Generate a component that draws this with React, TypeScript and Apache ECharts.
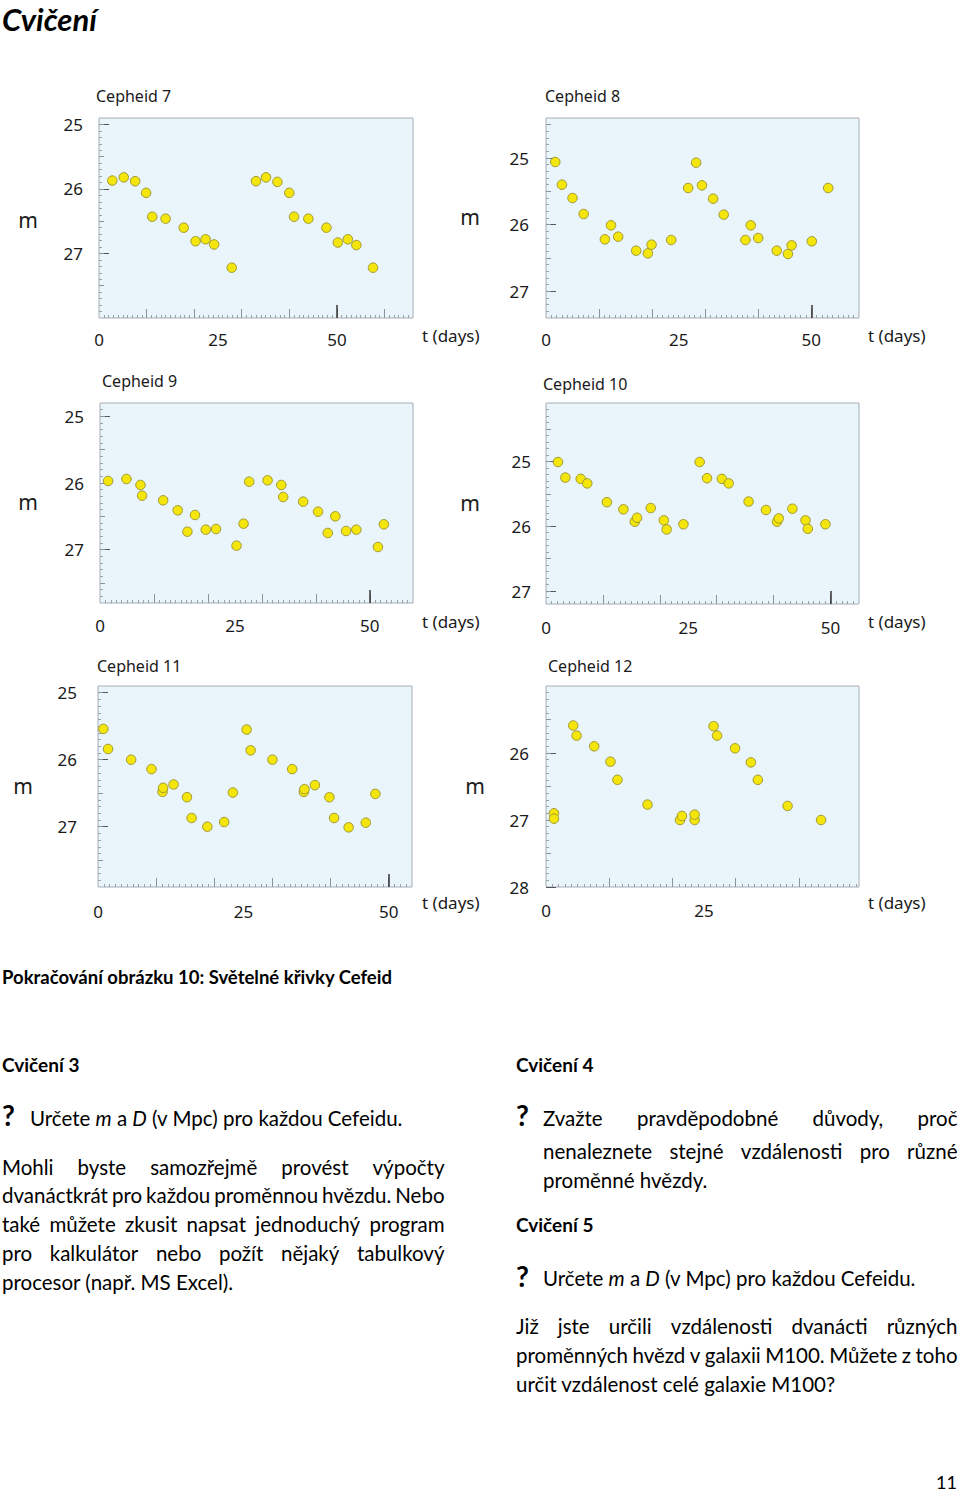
import { useEffect, useRef } from "react";
import * as echarts from "echarts";

// ---------- data ----------
const chartTitles = ["Cepheid 7", "Cepheid 8", "Cepheid 9", "Cepheid 10", "Cepheid 11", "Cepheid 12"];

const cepheid7Days = [2.8, 5.2, 7.6, 9.9, 11.2, 14.0, 17.8, 20.3, 22.4, 24.2, 27.9, 33.0, 35.1, 37.5, 40.0, 41.0, 44.0, 47.8, 50.2, 52.3, 54.1, 57.6];
const cepheid7Mag = [25.87, 25.82, 25.88, 26.06, 26.43, 26.46, 26.6, 26.81, 26.78, 26.86, 27.22, 25.88, 25.82, 25.89, 26.06, 26.43, 26.46, 26.6, 26.83, 26.78, 26.87, 27.22];

const cepheid8Days = [1.75, 3.0, 5.0, 7.1, 11.1, 12.25, 13.6, 17.0, 19.2, 19.9, 23.6, 26.8, 28.3, 29.4, 31.5, 33.5, 37.6, 38.6, 40.0, 43.5, 45.6, 46.3, 50.1, 53.2];
const cepheid8Mag = [25.06, 25.4, 25.6, 25.84, 26.22, 26.01, 26.18, 26.39, 26.43, 26.3, 26.23, 25.45, 25.07, 25.41, 25.61, 25.85, 26.23, 26.01, 26.2, 26.39, 26.44, 26.31, 26.25, 25.45];

const cepheid9Days = [1.5, 4.9, 7.5, 7.8, 11.7, 14.4, 16.2, 17.6, 19.6, 21.5, 25.3, 26.6, 27.65, 31.05, 33.6, 33.95, 37.65, 40.4, 42.2, 43.6, 45.6, 47.5, 51.5, 52.6];
const cepheid9Mag = [25.97, 25.94, 26.03, 26.19, 26.26, 26.41, 26.73, 26.48, 26.7, 26.69, 26.94, 26.61, 25.98, 25.96, 26.03, 26.21, 26.28, 26.43, 26.75, 26.5, 26.72, 26.7, 26.96, 26.62];

const cepheid10Days = [2.1, 3.4, 6.1, 7.25, 10.7, 13.6, 15.6, 16.0, 18.4, 20.7, 21.2, 24.15, 27.0, 28.3, 30.9, 32.1, 35.6, 38.65, 40.6, 40.9, 43.3, 45.6, 46.0, 49.1];
const cepheid10Mag = [25.01, 25.25, 25.27, 25.34, 25.63, 25.74, 25.93, 25.87, 25.72, 25.91, 26.05, 25.97, 25.01, 25.26, 25.27, 25.34, 25.62, 25.75, 25.93, 25.88, 25.73, 25.91, 26.04, 25.97];

const cepheid11Days = [0.92, 1.73, 5.7, 9.2, 11.1, 11.2, 13.0, 15.3, 16.1, 18.8, 21.7, 23.2, 25.56, 26.25, 30.0, 33.4, 35.4, 35.5, 37.3, 39.8, 40.6, 43.1, 46.05, 47.7];
const cepheid11Mag = [25.54, 25.84, 26.0, 26.14, 26.48, 26.42, 26.37, 26.56, 26.87, 27.0, 26.93, 26.49, 25.55, 25.86, 26.0, 26.14, 26.48, 26.44, 26.38, 26.56, 26.87, 27.01, 26.94, 26.51];

const cepheid12Days = [1.26, 1.26, 4.3, 4.84, 7.63, 10.2, 11.3, 16.05, 21.2, 21.5, 23.5, 23.5, 26.5, 27.05, 29.9, 32.4, 33.5, 38.2, 43.5];
const cepheid12Mag = [26.9, 26.98, 25.59, 25.74, 25.9, 26.13, 26.4, 26.77, 27.0, 26.94, 27.0, 26.92, 25.6, 25.74, 25.93, 26.14, 26.4, 26.79, 27.0];

const allDays = [cepheid7Days, cepheid8Days, cepheid9Days, cepheid10Days, cepheid11Days, cepheid12Days];
const allMags = [cepheid7Mag, cepheid8Mag, cepheid9Mag, cepheid10Mag, cepheid11Mag, cepheid12Mag];

const magTickLabels = [25, 26, 27];
const magTickLabels12 = [26, 27, 28];
const dayTickLabels = [0, 25, 50];
const dayTickLabels12 = [0, 25];

const pageTitle = "Cvičení";
const figureCaption = "Pokračování obrázku 10: Světelné křivky Cefeid";
const exercise3Heading = "Cvičení 3";
const exercise4Heading = "Cvičení 4";
const exercise5Heading = "Cvičení 5";
const exercise3Lines = [
  "Mohli byste samozřejmě provést výpočty",
  "dvanáctkrát pro každou proměnnou hvězdu. Nebo",
  "také můžete zkusit napsat jednoduchý program",
  "pro kalkulátor nebo požít nějaký tabulkový",
  "procesor (např. MS Excel).",
];
const exercise4Lines = [
  "Zvažte pravděpodobné důvody, proč",
  "nenaleznete stejné vzdálenosti pro různé",
  "proměnné hvězdy.",
];
const exercise5Lines = [
  "Již jste určili vzdálenosti dvanácti různých",
  "proměnných hvězd v galaxii M100. Můžete z toho",
  "určit vzdálenost celé galaxie M100?",
];
const questionRich = "{n|Určete }{i|m}{n| a }{i|D}{n| (v Mpc) pro každou Cefeidu.}";

// ---------- layout ----------
const layouts = [
  { left: 99, top: 118, width: 314, height: 200, xMax: 66, yMin: 24.9, yMax: 28, yGap: 16, xGap: 13, titleX: 96, titleY: 96, mX: 28, mY: 220, tX: 422, tY: 335 },
  { left: 546, top: 118, width: 313, height: 200, xMax: 59, yMin: 24.4, yMax: 27.4, yGap: 17, xGap: 13, titleX: 545, titleY: 96, mX: 470, mY: 217, tX: 868, tY: 335 },
  { left: 100, top: 403, width: 313, height: 200, xMax: 58, yMin: 24.8, yMax: 27.8, yGap: 16, xGap: 14, titleX: 102, titleY: 381, mX: 28, mY: 502, tX: 422, tY: 621 },
  { left: 546, top: 403, width: 313, height: 201, xMax: 55, yMin: 24.1, yMax: 27.2, yGap: 15, xGap: 15, titleX: 543, titleY: 384, mX: 470, mY: 503, tX: 868, tY: 621 },
  { left: 98, top: 686, width: 314, height: 201, xMax: 54, yMin: 24.9, yMax: 27.9, yGap: 21, xGap: 16, titleX: 97, titleY: 666, mX: 23, mY: 786, tX: 422, tY: 902 },
  { left: 546, top: 686, width: 313, height: 201, xMax: 49.5, yMin: 25, yMax: 28, yGap: 17, xGap: 15, titleX: 548, titleY: 666, mX: 475, mY: 786, tX: 868, tY: 902 },
];

const chartFont = "'Noto Sans', sans-serif";
const pageFont = "Lato, sans-serif";
const bodySize = 20.5;

function steps(a: number, b: number, step: number): number[] {
  const out: number[] = [];
  for (let k = Math.ceil(a / step - 1e-9); k * step <= b + 1e-9; k++) out.push(+(k * step).toFixed(3));
  return out;
}

let measureCtx: CanvasRenderingContext2D | null = null;
function measure(text: string, font: string): number {
  if (!measureCtx) measureCtx = document.createElement("canvas").getContext("2d");
  measureCtx!.font = font;
  return measureCtx!.measureText(text).width;
}

function textEl(text: string, x: number, y: number, extra: any = {}) {
  return {
    type: "text",
    x,
    y,
    style: { text, fontFamily: pageFont, fontSize: bodySize, fill: "#000", verticalAlign: "middle", align: "left", ...extra },
  };
}

function justified(line: string, x0: number, x1: number, y: number) {
  const words = line.split(" ");
  const font = `${bodySize}px Lato`;
  const widths = words.map((w) => measure(w, font));
  const total = widths.reduce((s, w) => s + w, 0);
  const gap = words.length > 1 ? (x1 - x0 - total) / (words.length - 1) : 0;
  let x = x0;
  return words.map((w, i) => {
    const el = textEl(w, x, y);
    x += widths[i] + gap;
    return el;
  });
}

function buildOption() {
  const grid: any[] = [];
  const xAxis: any[] = [];
  const yAxis: any[] = [];
  const series: any[] = [];
  const graphic: any[] = [];

  layouts.forEach((L, g) => {
    grid.push({
      left: L.left,
      top: L.top,
      width: L.width,
      height: L.height,
      show: true,
      backgroundColor: "#eaf4fb",
      borderColor: "#a6aeb6",
      borderWidth: 1,
    });
    const is12 = g === 5;
    const base = { gridIndex: g, type: "value", splitLine: { show: false }, axisLine: { show: false, onZero: false } };

    // x axes
    const xLabelIdx = xAxis.length;
    xAxis.push({
      ...base,
      min: 0,
      max: L.xMax,
      position: "bottom",
      axisTick: { show: false },
      axisLabel: { customValues: is12 ? dayTickLabels12 : dayTickLabels, margin: L.xGap, fontFamily: chartFont, fontSize: 17, color: "#1a1a1a" },
    });
    const xTick = (vals: number[], len: number, color: string, width = 1) =>
      xAxis.push({
        ...base,
        min: 0,
        max: L.xMax,
        position: "bottom",
        axisLabel: { show: false },
        axisTick: { show: true, inside: true, length: len, customValues: vals, lineStyle: { color, width } },
      });
    xTick(steps(1, L.xMax - 0.5, 1), 3, "#98a0a8");
    xTick(steps(10, L.xMax - 0.5, 10), 9, "#8a929a");
    if (L.xMax > 50.5) xTick([50], 13, "#333", 1.5);

    // y axes
    const yLabelIdx = yAxis.length;
    const yLabels = is12 ? magTickLabels12 : magTickLabels;
    yAxis.push({
      ...base,
      min: L.yMin,
      max: L.yMax,
      inverse: true,
      position: "left",
      axisTick: { show: true, inside: true, length: 10, customValues: yLabels, lineStyle: { color: "#555", width: 1 } },
      axisLabel: { customValues: yLabels, margin: L.yGap, fontFamily: chartFont, fontSize: 17, color: "#1a1a1a" },
    });
    const yTick = (vals: number[], len: number, color: string) =>
      yAxis.push({
        ...base,
        min: L.yMin,
        max: L.yMax,
        inverse: true,
        position: "left",
        axisLabel: { show: false },
        axisTick: { show: true, inside: true, length: len, customValues: vals, lineStyle: { color, width: 1 } },
      });
    yTick(steps(L.yMin + 0.05, L.yMax - 0.05, 0.1), 3, "#9aa2aa");
    yTick(steps(L.yMin + 0.05, L.yMax - 0.05, 0.5), 5, "#8a929a");

    series.push({
      type: "scatter",
      xAxisIndex: xLabelIdx,
      yAxisIndex: yLabelIdx,
      symbol: "circle",
      symbolSize: 9.5,
      itemStyle: { color: "#f4e60c", borderColor: "#9f9830", borderWidth: 1, opacity: 1 },
      data: allDays[g].map((d, i) => [d, allMags[g][i]]),
    });

    graphic.push({
      type: "text",
      x: L.titleX,
      y: L.titleY,
      style: { text: chartTitles[g], fontFamily: chartFont, fontSize: 16, fill: "#1a1a1a", verticalAlign: "middle", align: "left" },
    });
    graphic.push({
      type: "text",
      x: L.mX,
      y: L.mY,
      style: { text: "m", fontFamily: chartFont, fontSize: 21, fill: "#1a1a1a", verticalAlign: "middle", align: "center" },
    });
    graphic.push({
      type: "text",
      x: L.tX,
      y: L.tY,
      style: { text: "t (days)", fontFamily: chartFont, fontSize: 17, fill: "#1a1a1a", verticalAlign: "middle", align: "left" },
    });
  });

  // page texts
  graphic.push(textEl(pageTitle, 2, 18.5, { fontSize: 31, fontWeight: "bold", fontStyle: "italic" }));
  graphic.push(textEl(figureCaption, 2, 977, { fontSize: 18.5, fontWeight: "bold" }));
  graphic.push(textEl(exercise3Heading, 2, 1064, { fontSize: 19, fontWeight: "bold" }));
  graphic.push(textEl(exercise4Heading, 516, 1064, { fontSize: 19, fontWeight: "bold" }));
  graphic.push(textEl(exercise5Heading, 516, 1224, { fontSize: 19, fontWeight: "bold" }));

  const rich = {
    n: { fontFamily: pageFont, fontSize: bodySize, fill: "#000" },
    i: { fontFamily: pageFont, fontSize: bodySize, fill: "#000", fontStyle: "italic" },
  };
  graphic.push(textEl("?", 2, 1115, { fontSize: 28, fontWeight: "bold" }));
  graphic.push(textEl(questionRich, 30, 1118, { rich }));
  graphic.push(textEl("?", 516, 1115, { fontSize: 28, fontWeight: "bold" }));
  graphic.push(textEl("?", 516, 1276, { fontSize: 28, fontWeight: "bold" }));
  graphic.push(textEl(questionRich, 543, 1278, { rich }));

  const e3Y = [1167, 1195, 1224, 1253, 1282];
  exercise3Lines.forEach((line, i) => {
    if (i < exercise3Lines.length - 1) graphic.push(...justified(line, 2, 444.5, e3Y[i]));
    else graphic.push(textEl(line, 2, e3Y[i]));
  });
  const e4Y = [1118, 1151, 1180];
  exercise4Lines.forEach((line, i) => {
    if (i < exercise4Lines.length - 1) graphic.push(...justified(line, 543, 957.5, e4Y[i]));
    else graphic.push(textEl(line, 543, e4Y[i]));
  });
  const e5Y = [1326, 1355, 1384];
  exercise5Lines.forEach((line, i) => {
    if (i < exercise5Lines.length - 1) graphic.push(...justified(line, 516, 957.5, e5Y[i]));
    else graphic.push(textEl(line, 516, e5Y[i]));
  });
  graphic.push(textEl("11", 957, 1482, { align: "right", fontSize: 18 }));

  return {
    animation: false,
    backgroundColor: "#ffffff",
    textStyle: { fontFamily: chartFont },
    grid,
    xAxis,
    yAxis,
    series,
    graphic,
  };
}

export default function App() {
  const ref = useRef<HTMLDivElement>(null);
  useEffect(() => {
    if (!ref.current) return;
    const chart = echarts.init(ref.current, undefined, { renderer: "svg" });
    chart.setOption(buildOption() as any);
    return () => chart.dispose();
  }, []);
  return (
    <div
      ref={ref}
      style={{ position: "absolute", left: 0, top: 0, width: 960, height: 1493, background: "#fff" }}
    />
  );
}
